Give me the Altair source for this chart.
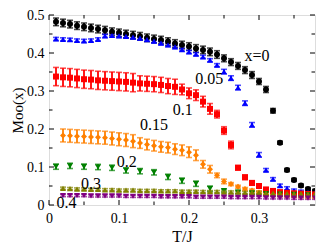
import altair as alt
import pandas as pd

FONT = "Liberation Serif"
W, H = 266, 190

# temperatures
T = [0.01, 0.02, 0.03, 0.04, 0.05, 0.06, 0.07, 0.08, 0.09, 0.10,
     0.11, 0.12, 0.13, 0.14, 0.15, 0.16, 0.17, 0.18, 0.19, 0.20,
     0.21, 0.22, 0.23, 0.24, 0.25, 0.26, 0.27, 0.28, 0.29, 0.30,
     0.31, 0.32, 0.33, 0.34, 0.35, 0.36, 0.37, 0.38]
T2 = T[1:]
T_odd = [0.01, 0.03, 0.05, 0.07, 0.09, 0.11, 0.13, 0.15, 0.17, 0.19,
         0.21, 0.23, 0.25, 0.27, 0.29, 0.31, 0.33, 0.35, 0.37]

m_x0 = [0.482, 0.479, 0.476, 0.472, 0.469, 0.466, 0.463, 0.460, 0.456, 0.453,
        0.450, 0.447, 0.444, 0.440, 0.437, 0.434, 0.430, 0.425, 0.421, 0.417,
        0.412, 0.408, 0.403, 0.396, 0.386, 0.376, 0.366, 0.355, 0.342, 0.325,
        0.304, 0.248, 0.164, 0.092, 0.066, 0.051, 0.042, 0.037]
e_x0 = [0.010] * 24 + [0.009] * 5 + [0.008] * 2 + [0.006] + [0.004] * 6

m_x05 = [0.437, 0.436, 0.435, 0.433, 0.432, 0.433, 0.436, 0.445, 0.446, 0.445,
         0.444, 0.442, 0.439, 0.435, 0.431, 0.426, 0.421, 0.416, 0.409, 0.403,
         0.397, 0.390, 0.381, 0.368, 0.351, 0.334, 0.309, 0.268, 0.211, 0.132,
         0.092, 0.068, 0.051, 0.044, 0.038, 0.035, 0.033, 0.032]
e_x05 = [0.004] * 24 + [0.006] * 6 + [0.004] * 8

m_x1 = [0.338, 0.336, 0.335, 0.333, 0.331, 0.330, 0.328, 0.327, 0.326, 0.325,
        0.324, 0.322, 0.320, 0.319, 0.318, 0.316, 0.313, 0.311, 0.304, 0.294,
        0.289, 0.272, 0.253, 0.239, 0.196, 0.158, 0.098, 0.073, 0.058, 0.050,
        0.041, 0.037, 0.034, 0.032, 0.031, 0.030, 0.029, 0.028]
e_x1 = [0.024] * 12 + [0.020] * 6 + [0.014] * 5 + [0.010] * 3 + [0.006] * 3 + [0.003] * 9

m_x15 = [0.183, 0.182, 0.181, 0.180, 0.179, 0.178, 0.177, 0.175, 0.173, 0.171,
         0.168, 0.163, 0.159, 0.156, 0.153, 0.151, 0.147, 0.144, 0.139, 0.131,
         0.107, 0.094, 0.078, 0.062, 0.055, 0.048, 0.042, 0.038, 0.033, 0.029,
         0.027, 0.026, 0.025, 0.024, 0.023, 0.022, 0.021]
e_x15 = [0.017] * 11 + [0.014] * 9 + [0.010] * 2 + [0.006] * 2 + [0.004] * 13

m_x2 = [0.101, 0.103, 0.101, 0.100, 0.098, 0.091, 0.089, 0.086, 0.074, 0.064,
        0.056, 0.043, 0.038, 0.034, 0.032, 0.030, 0.029, 0.028, 0.027]
e_x2 = [0.007] * 12 + [0.004] * 7

m_x3 = [0.044, 0.043, 0.042, 0.042, 0.041, 0.041, 0.040, 0.040, 0.039, 0.039,
        0.039, 0.038, 0.038, 0.038, 0.037, 0.037, 0.037, 0.036, 0.036, 0.036,
        0.035, 0.035, 0.035, 0.034, 0.034, 0.034, 0.033, 0.033, 0.033, 0.031,
        0.031, 0.031, 0.030, 0.030, 0.030, 0.029, 0.029]
e_x3 = [0.003] * 37

m_x4 = [0.025, 0.025, 0.025, 0.025, 0.024, 0.024, 0.024, 0.024, 0.024, 0.023,
        0.023, 0.023, 0.023, 0.023, 0.022, 0.022, 0.022, 0.022, 0.022, 0.021,
        0.021, 0.021, 0.021, 0.021, 0.020, 0.020, 0.020, 0.020, 0.020, 0.019,
        0.019, 0.019, 0.019, 0.018, 0.018, 0.018, 0.018]
e_x4 = [0.003] * 37

series_names = ["0", "0.05", "0.1", "0.15", "0.2", "0.3", "0.4"]
series_colors = ["#000000", "#0000ff", "#ff0000", "#ff8000", "#008000", "#808000", "#800080"]
series_shapes = ["circle", "triangle-up", "square", "diamond", "triangle-down", "triangle-up", "triangle-down"]
series_sizes = [36, 36, 34, 48, 34, 26, 26]

label_text = ["x=0", "0.05", "0.1", "0.15", "0.2", "0.3", "0.4"]
label_T = [0.297, 0.229, 0.191, 0.150, 0.111, 0.060, 0.025]
label_M = [0.392, 0.332, 0.250, 0.2105, 0.114, 0.055, 0.006]

x_major = [0, 0.1, 0.2, 0.3]
x_minor = [0.05, 0.15, 0.25, 0.35]
y_major = [0, 0.1, 0.2, 0.3, 0.4, 0.5]
y_minor = [0.05, 0.15, 0.25, 0.35, 0.45]

data = [
    ("0", T, m_x0, e_x0), ("0.05", T, m_x05, e_x05), ("0.1", T, m_x1, e_x1),
    ("0.15", T2, m_x15, e_x15), ("0.2", T_odd, m_x2, e_x2),
    ("0.3", T2, m_x3, e_x3), ("0.4", T2, m_x4, e_x4),
]
rows = []
for i, (name, ts, ms, es) in enumerate(data):
    for t, m, e in zip(ts, ms, es):
        rows.append({"s": name, "order": i, "T": t, "M": m, "lo": m - e, "hi": m + e})
df = pd.DataFrame(rows)
labels = pd.DataFrame({"T": label_T, "M": label_M, "txt": label_text})


def X(field):
    return alt.X(f"{field}:Q", scale=alt.Scale(domain=[0, 0.38], nice=False, zero=False),
                 axis=alt.Axis(values=x_major, format="~g", title="T/J", grid=False, ticks=False,
                               domain=False, labelFont=FONT, labelFontSize=14, labelColor="black",
                               labelPadding=6, labelFlush=False, labelOverlap=False,
                               titleFont=FONT, titleFontSize=16, titleFontWeight="normal",
                               titleColor="black", titlePadding=3))


def Y(field):
    return alt.Y(f"{field}:Q", scale=alt.Scale(domain=[0, 0.5], nice=False, zero=False),
                 axis=alt.Axis(values=y_major, format="~g", title="Moo(x)", grid=False, ticks=False,
                               domain=False, labelFont=FONT, labelFontSize=14, labelColor="black",
                               labelPadding=5, labelFlush=False, labelOverlap=False,
                               titleFont=FONT, titleFontSize=15, titleFontWeight="normal",
                               titleColor="black", titlePadding=1))


color = alt.Color("s:N", scale=alt.Scale(domain=series_names, range=series_colors), legend=None)
shape = alt.Shape("s:N", scale=alt.Scale(domain=series_names, range=series_shapes), legend=None)
size = alt.Size("s:N", scale=alt.Scale(domain=series_names, range=series_sizes), legend=None)

base = alt.Chart(df)
err = base.mark_rule(strokeWidth=1.8, clip=True).encode(x=X("T"), y=Y("lo"), y2="hi:Q", color=color,
                                                         order="order:Q")
cap_lo = base.mark_tick(orient="horizontal", size=6, thickness=1.6, clip=True).encode(
    x=X("T"), y=Y("lo"), color=color)
cap_hi = base.mark_tick(orient="horizontal", size=6, thickness=1.6, clip=True).encode(
    x=X("T"), y=Y("hi"), color=color)
pts = base.mark_point(filled=True, opacity=1, clip=True).encode(
    x=X("T"), y=Y("M"), color=color, shape=shape, size=size)

txt = alt.Chart(labels).mark_text(font=FONT, fontSize=16, color="black", align="center",
                                  baseline="middle").encode(x=X("T"), y=Y("M"), text="txt:N")

def xticks(vals, L):
    d = pd.DataFrame({"v": vals})
    b = alt.Chart(d).mark_rule(color="black", strokeWidth=1).encode(
        x=X("v"), y=alt.value(H), y2=alt.value(H - L))
    t = alt.Chart(d).mark_rule(color="black", strokeWidth=1).encode(
        x=X("v"), y=alt.value(0), y2=alt.value(L))
    return [b, t]

def yticks(vals, L):
    d = pd.DataFrame({"v": vals})
    l = alt.Chart(d).mark_rule(color="black", strokeWidth=1).encode(
        y=Y("v"), x=alt.value(0), x2=alt.value(L))
    r = alt.Chart(d).mark_rule(color="black", strokeWidth=1).encode(
        y=Y("v"), x=alt.value(W), x2=alt.value(W - L))
    return [l, r]

tick_layers = xticks(x_major, 5) + xticks(x_minor, 3.5) + yticks(y_major, 5) + yticks(y_minor, 3.5)

chart = alt.layer(err, cap_lo, cap_hi, pts, txt, *tick_layers).properties(
    width=W, height=H,
    autosize=alt.AutoSizeParams(type="none"),
    padding={"left": 41, "top": 7, "right": 9, "bottom": 40},
).configure_view(stroke="black", strokeWidth=1).configure(background="white")

chart.save("out.html", embed_options={"renderer": "svg", "actions": False})
